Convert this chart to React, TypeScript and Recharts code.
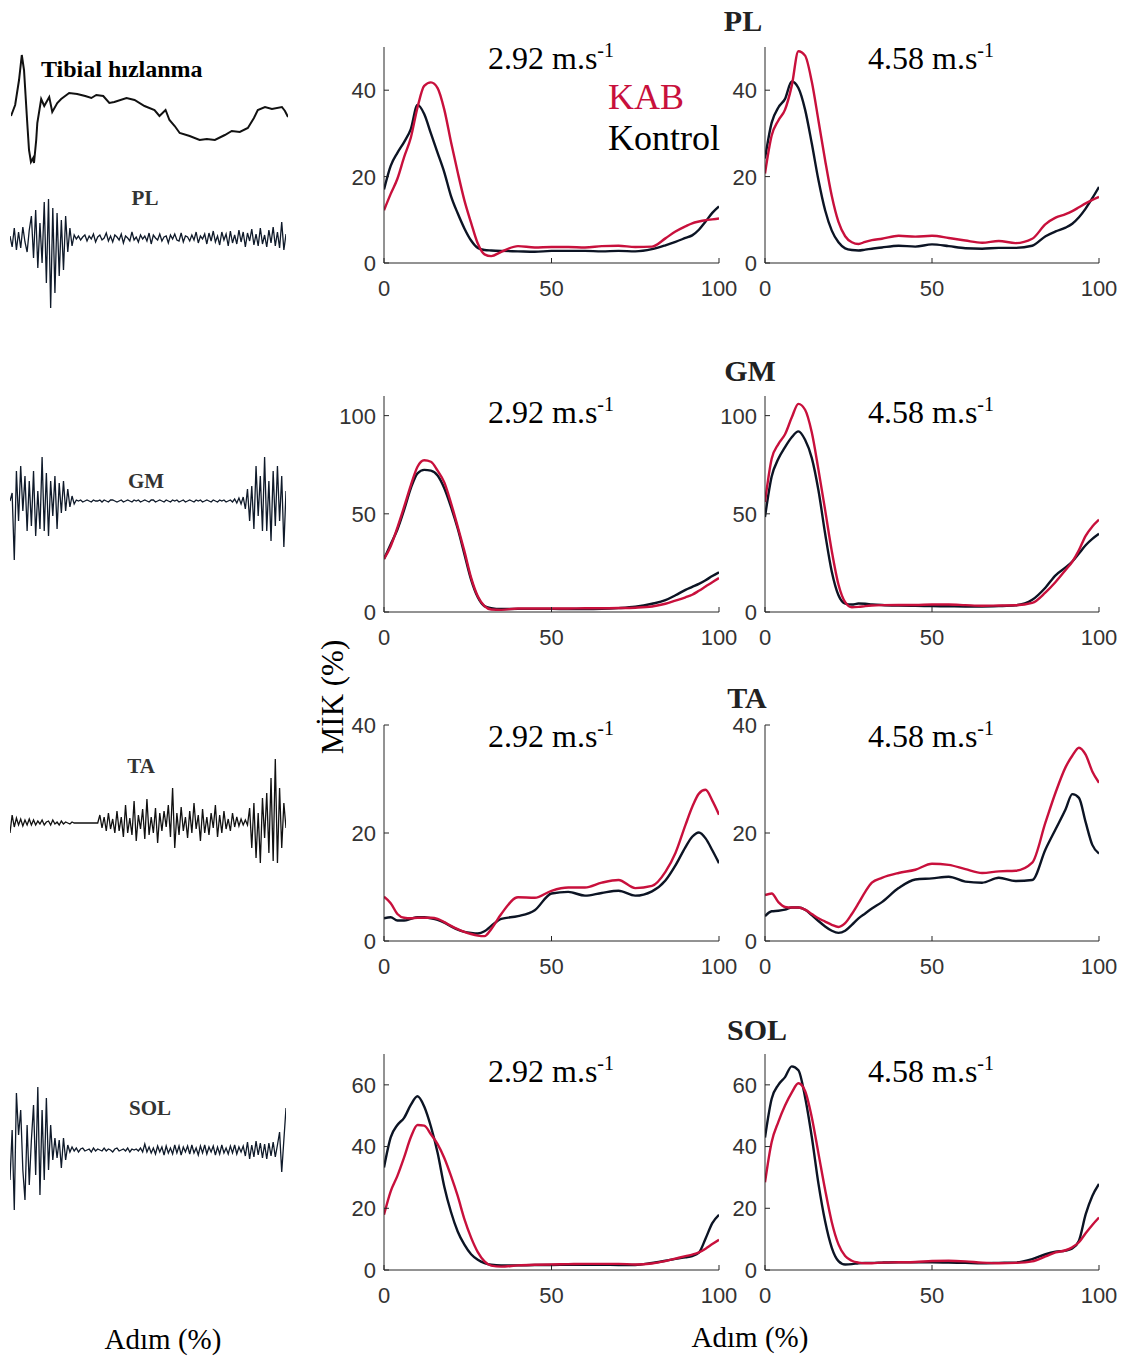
import React from 'react';
import { LineChart, Line, XAxis, YAxis } from 'recharts';

// ---------- shared x (step %) ----------
const X_PCT = [0,2,4,6,8,10,12,14,16,18,20,22,24,26,28,30,32,35,40,45,50,55,60,65,70,75,80,84,87,90,92,94,96,98,100];

// ---------- PL ----------
const PL_292_KON = [17,22.5,25.5,28,31,36.6,34.5,30,25.5,21,15.5,11.5,8,5.2,3.5,3.0,2.9,2.8,2.7,2.6,2.8,2.8,2.8,2.7,2.8,2.7,3.2,4.1,4.9,5.8,6.4,7.7,9.6,11.6,13.1];
const PL_292_KAB = [12.2,16,19.5,24.5,29,36,41,41.8,40.5,35.5,28,21,14.5,9.3,4.5,2.0,1.6,2.6,3.9,3.6,3.7,3.7,3.6,3.9,4.0,3.7,3.8,5.7,7.3,8.5,9.2,9.6,9.9,10.1,10.3];
const PL_458_KON = [24.2,32.5,36,38,42,40.5,35.5,27.7,19.2,12.2,7.5,4.8,3.4,3.0,2.9,3.1,3.3,3.6,4.0,3.8,4.3,3.9,3.4,3.3,3.5,3.5,4.0,6.2,7.3,8.2,9.1,10.6,12.6,15.0,17.6];
const PL_458_KAB = [20.7,29.5,33,35.5,41,49,48,42,33,23.8,15.5,9.5,6.2,4.8,4.4,4.9,5.3,5.6,6.3,6.1,6.3,5.8,5.2,4.7,5.1,4.6,5.6,9.0,10.5,11.3,12.0,12.9,13.8,14.6,15.3];

// ---------- GM ----------
const GM_292_KON = [27,34.5,42,52,63,70.6,72.4,72,69.5,63,53.5,42.5,29.5,16.5,7.5,3.0,2.0,1.5,1.6,1.6,1.6,1.5,1.5,1.6,2.0,2.7,4.2,6.0,8.5,11.3,12.8,14.3,16.2,18.3,20.2];
const GM_292_KAB = [27,33.5,43,53.5,64.5,74,77.3,76.5,72,66,55.5,43.5,31,17.5,8,3,1.3,1.1,1.8,1.8,1.8,1.8,1.9,1.9,2.0,2.2,2.8,4.2,5.8,7.5,8.8,10.8,13.0,15.2,17.3];
const GM_458_KON = [48.4,69,78,84,89,92,87.7,78.5,62,40,20.5,8.5,4.3,3.8,4.3,4.2,3.9,3.6,3.3,3.1,3.0,2.9,2.8,2.8,3.0,3.4,6.2,12.5,18.7,22.7,25.7,29.8,34.0,37.2,39.8];
const GM_458_KAB = [56,78,85.5,90.5,99,106,103,91.5,72.5,52,31,14,5,2.4,2.6,3.0,3.3,3.5,3.6,3.6,3.8,3.8,3.5,3.2,3.3,3.4,4.6,10.0,15.3,21.4,25.6,31.5,38.8,43.5,47];

// ---------- TA ----------
const TA_292_KON = [4.2,4.4,3.8,3.8,4.1,4.4,4.4,4.2,3.9,3.4,2.7,2.1,1.7,1.5,1.4,1.8,2.8,4.1,4.6,5.7,8.8,9.1,8.4,8.9,9.3,8.4,9.2,11.2,14.0,17.4,19.3,20.1,19.0,16.8,14.4];
const TA_292_KAB = [8.2,7,5,4.3,4.2,4.3,4.3,4.3,4.1,3.5,2.8,2.2,1.7,1.3,1.0,0.9,2.2,5.0,8.1,8.0,9.3,9.9,9.9,10.8,11.3,9.8,10.2,12.8,16.3,21.5,24.8,27.3,28.0,26.0,23.4];
const TA_458_KON = [4.6,5.5,5.6,5.8,6.2,6.2,5.8,4.8,3.7,2.7,1.9,1.5,1.9,3.0,4.2,5.1,6.0,7.2,9.8,11.4,11.6,11.9,11.0,10.8,11.7,11.1,11.3,17.0,20.7,24.4,27.2,26.5,22.0,17.8,16.2];
const TA_458_KAB = [8.5,8.8,7.2,6.3,6.2,6.2,5.8,5.0,4.2,3.6,3.0,2.6,3.3,5.0,7.0,9.1,10.8,11.7,12.6,13.2,14.3,14.1,13.3,12.6,12.9,13.0,14.5,22.0,27.5,32.2,34.3,35.8,34.5,31.4,29.3];

// ---------- SOL ----------
const SOL_292_KON = [33.2,43,47,49.3,53.5,56.3,53,46.5,38,27,18.8,12.5,8.2,5.1,3.3,2.2,1.7,1.5,1.5,1.6,1.6,1.7,1.7,1.7,1.6,1.6,2.3,3.0,3.6,4.1,4.5,5.6,10.2,15.2,17.9];
const SOL_292_KAB = [17.9,25.5,30.5,36.5,43,47,46.8,44,40.8,36.3,30.5,24,16.5,10.5,5.8,2.8,1.4,1.1,1.5,1.7,1.8,1.9,2.0,2.0,2.0,1.8,2.1,2.9,3.7,4.5,5.0,5.7,6.9,8.4,9.8];
const SOL_458_KON = [42.9,55.5,60,62.5,66,64.7,56,43.2,28,15.8,7.2,2.9,1.8,1.9,2.2,2.3,2.3,2.4,2.5,2.5,2.5,2.4,2.3,2.2,2.3,2.4,3.5,5.1,5.9,6.3,7.0,9.5,18.0,24.0,27.9];
const SOL_458_KAB = [28.4,41.5,48,53.3,57.5,60.5,58,49.5,37.8,26,15.5,8.3,4.5,3.0,2.4,2.2,2.2,2.4,2.5,2.6,2.9,3.0,2.8,2.4,2.2,2.3,2.8,4.4,5.7,6.4,7.4,9.0,11.9,14.6,17.0];

// ---------- axis ticks ----------
const X_TICKS = [0, 50, 100];
const PL_TICKS = [0, 20, 40];
const GM_TICKS = [0, 50, 100];
const TA_TICKS = [0, 20, 40];
const SOL_TICKS = [0, 20, 40, 60];

// ---------- raw signals (left column) ----------
const TIB_T = [0,1.5,2.9,3.9,4.7,5.8,6.5,7.2,8,8.3,9.1,9.5,10.9,12,13.8,14.9,16.7,18.1,21,23.9,26.8,29,30.8,33.3,35.5,37.3,41.7,44.6,48.2,51.8,53.6,55.8,57.2,59.1,60.9,64.5,68.1,70.7,73.6,77.2,79.7,82.6,85.5,87.7,89.1,91.7,94.2,97.8,98.9,100];
const TIB_V = [0,11,36,61,46,-4,-34,-46,-42,-47,-24,-7,17,10,19,4,13,17,23,22,20,18,21,20,13,14,18,16,10,6,0,6,-4,-10,-17,-20,-24,-23,-24,-19,-15,-16,-12,-2,6,9,7,9,5,-1];

const EMG_PL = [2,-9,10,-12,6,-10,11,-4,-14,8,22,-20,28,-30,15,-25,36,-45,39,-70,30,-55,25,-38,18,-32,22,-14,10,-8,3,
  -1,2,-2,1,3,-3,2,-1,4,-4,1,3,-2,0,5,-3,2,-4,3,1,-2,4,-5,2,0,-3,6,-2,1,-4,3,-1,2,-3,5,-6,3,0,-2,4,-3,1,2,-5,3,-1,4,-2,-3,5,-4,2,1,-3,3,-2,6,-5,2,-1,4,-6,5,-3,7,-4,2,-7,6,-2,4,-8,7,-5,3,-6,8,-4,6,-9,5,-3,9,-7,4,-8,10,-6,3,-9,8,-5,11,-8,6,-10,16,-12,4];
const EMG_GM = [0,8,-59,30,-20,35,-10,25,-30,20,-25,30,-35,10,-28,44,-30,28,-35,20,-15,25,-28,18,-12,20,-10,12,-6,5,-3,
  1,0,1,-1,0,1,0,-1,1,0,0,1,-1,1,0,-1,1,1,0,-1,0,1,-1,0,1,0,-1,1,0,1,-1,0,1,0,-1,1,1,-1,0,1,0,-1,1,0,-1,1,0,1,-1,0,1,-1,0,1,0,-1,1,0,1,-1,0,1,0,-1,1,0,-1,1,0,1,-1,0,1,-1,2,-2,3,-3,4,
  -8,12,-20,15,-28,35,-15,25,-30,44,-30,20,-40,30,-25,35,-20,25,-46,10];
const EMG_TA = [-10,8,-4,5,-2,4,-3,3,-2,4,-2,3,
  -2,2,-1,3,-2,1,2,-2,3,-1,1,-2,2,-1,1,0,-1,1,
  0,0,0,0,0,0,0,0,0,0,0,0,
  8,-5,6,-8,10,-6,4,-10,12,-8,6,-14,18,-10,5,-12,22,-18,8,-6,14,-16,24,-12,6,-10,15,-20,10,-8,12,-4,18,-14,35,-25,10,-12,16,-8,6,-15,12,-10,20,-6,8,-18,14,-10,6,-12,10,-5,18,-14,8,-10,12,-6,4,-8,10,-4,6,-3,4,-2,3,-2,
  15,-25,20,-35,10,-40,25,-15,30,-30,45,-38,64,-40,35,-25,20,-5];
const EMG_SOL = [-30,20,-60,57,15,40,-20,-50,25,-35,10,45,-25,63,-45,40,-30,52,-20,25,-10,12,-8,10,-18,12,-10,5,
  -2,3,-1,2,-2,1,2,-1,0,1,-2,2,-1,1,0,-1,2,-1,1,0,-2,1,2,-1,0,1,-1,2,-2,1,0,1,-1,2,-2,6,
  -2,3,-3,2,-4,4,-2,3,-5,4,-3,2,-4,5,-3,4,-5,3,-2,4,-4,5,-3,2,-5,4,-3,5,-4,3,-2,4,-5,3,-4,5,-3,2,-4,4,-3,5,-4,3,-2,4,
  -6,8,-9,5,-7,9,-5,7,-8,6,-9,7,-6,8,-7,5,18,-22,10,42];

// ---------- style ----------
const RED = '#c8103c';
const DARK = '#0c1424';
const AXIS = '#262626';
const SERIF = "'Liberation Serif', 'Times New Roman', serif";
const SANS = "'Liberation Sans', Arial, Helvetica, sans-serif";

function XTick(props: any) {
  const { x, y, payload } = props;
  return (
    <g>
      <line x1={x} y1={y} x2={x} y2={y - 5} stroke={AXIS} strokeWidth={1} />
      <text x={x} y={y + 33} textAnchor="middle" fontFamily={SANS} fontSize={22} fill="#333">
        {payload.value}
      </text>
    </g>
  );
}

function YTick(props: any) {
  const { x, y, payload } = props;
  return (
    <g>
      <line x1={x} y1={y} x2={x + 5} y2={y} stroke={AXIS} strokeWidth={1} />
      <text x={x - 8} y={y} dy="0.36em" textAnchor="end" fontFamily={SANS} fontSize={22} fill="#333">
        {payload.value}
      </text>
    </g>
  );
}

type PanelProps = {
  left: number;
  top: number;
  width: number;
  kon: number[];
  kab: number[];
  domain: [number, number];
  yTicks: number[];
};

const PANEL_TOP_MARGIN = 20;

function Panel({ left, top, width, kon, kab, domain, yTicks }: PanelProps) {
  const data = X_PCT.map((x, i) => ({ x, kon: kon[i], kab: kab[i] }));
  return (
    <div style={{ position: 'absolute', left, top: top - PANEL_TOP_MARGIN }}>
      <LineChart width={width} height={216 + PANEL_TOP_MARGIN + 40} data={data} margin={{ top: PANEL_TOP_MARGIN, right: 20, bottom: 0, left: 0 }}>
        <XAxis
          dataKey="x"
          type="number"
          domain={[0, 100]}
          ticks={X_TICKS}
          interval={0}
          height={40}
          tickSize={0}
          tickMargin={0}
          tickLine={false}
          axisLine={{ stroke: AXIS, strokeWidth: 1 }}
          tick={<XTick />}
          allowDataOverflow
        />
        <YAxis
          type="number"
          domain={domain}
          ticks={yTicks}
          interval={0}
          width={60}
          tickSize={0}
          tickMargin={0}
          tickLine={false}
          axisLine={{ stroke: AXIS, strokeWidth: 1 }}
          tick={<YTick />}
          allowDataOverflow
        />
        <Line dataKey="kon" type="monotone" stroke={DARK} strokeWidth={2.4} dot={false} isAnimationActive={false} />
        <Line dataKey="kab" type="monotone" stroke={RED} strokeWidth={2.4} dot={false} isAnimationActive={false} />
      </LineChart>
    </div>
  );
}

type TraceProps = { left: number; top: number; width: number; data: { t: number; v: number }[]; half: number; color: string; sw: number };

function Trace({ left, top, width, data, half, color, sw }: TraceProps) {
  return (
    <div style={{ position: 'absolute', left, top }}>
      <LineChart width={width} height={half * 2} data={data} margin={{ top: 0, right: 0, bottom: 0, left: 0 }}>
        <XAxis dataKey="t" type="number" domain={['dataMin', 'dataMax']} hide />
        <YAxis type="number" domain={[-half, half]} hide allowDataOverflow />
        <Line dataKey="v" type="linear" stroke={color} strokeWidth={sw} dot={false} isAnimationActive={false} />
      </LineChart>
    </div>
  );
}

const idx = (arr: number[]) => arr.map((v, i) => ({ t: i, v }));

function Speed({ x, y, label }: { x: number; y: number; label: string }) {
  return (
    <text x={x} y={y} fontFamily={SERIF} fontSize={32} fill="#000">
      {label} m.s
      <tspan dy={-12} fontSize={20}>-1</tspan>
    </text>
  );
}

export default function App() {
  const tib = TIB_T.map((t, i) => ({ t, v: TIB_V[i] }));
  const L = 324;
  const R = 705;
  const WL = 415;
  const WR = 414;
  // top of each plot area (value = domain max)
  const rows = [47, 396, 725, 1054];
  return (
    <div style={{ position: 'absolute', left: 0, top: 0, width: 1133, height: 1360, background: '#fff', overflow: 'hidden' }}>
      {/* raw signals */}
      <Trace left={11} top={46} width={277} data={tib} half={70} color="#111" sw={2} />
      <Trace left={10} top={158} width={276} data={idx(EMG_PL)} half={80} color="#0f1a2a" sw={1.3} />
      <Trace left={10} top={421} width={276} data={idx(EMG_GM)} half={80} color="#0f1a2a" sw={1.3} />
      <Trace left={10} top={743} width={276} data={idx(EMG_TA)} half={80} color="#111" sw={1.3} />
      <Trace left={10} top={1070} width={276} data={idx(EMG_SOL)} half={80} color="#0f1a2a" sw={1.3} />

      {/* main panels */}
      <Panel left={L} top={rows[0]} width={WL} kon={PL_292_KON} kab={PL_292_KAB} domain={[0, 50]} yTicks={PL_TICKS} />
      <Panel left={R} top={rows[0]} width={WR} kon={PL_458_KON} kab={PL_458_KAB} domain={[0, 50]} yTicks={PL_TICKS} />
      <Panel left={L} top={rows[1]} width={WL} kon={GM_292_KON} kab={GM_292_KAB} domain={[0, 110]} yTicks={GM_TICKS} />
      <Panel left={R} top={rows[1]} width={WR} kon={GM_458_KON} kab={GM_458_KAB} domain={[0, 110]} yTicks={GM_TICKS} />
      <Panel left={L} top={rows[2]} width={WL} kon={TA_292_KON} kab={TA_292_KAB} domain={[0, 40]} yTicks={TA_TICKS} />
      <Panel left={R} top={rows[2]} width={WR} kon={TA_458_KON} kab={TA_458_KAB} domain={[0, 40]} yTicks={TA_TICKS} />
      <Panel left={L} top={rows[3]} width={WL} kon={SOL_292_KON} kab={SOL_292_KAB} domain={[0, 70]} yTicks={SOL_TICKS} />
      <Panel left={R} top={rows[3]} width={WR} kon={SOL_458_KON} kab={SOL_458_KAB} domain={[0, 70]} yTicks={SOL_TICKS} />

      {/* text overlay */}
      <svg width={1133} height={1360} style={{ position: 'absolute', left: 0, top: 0, pointerEvents: 'none' }}>
        <text x={41} y={77} fontFamily={SERIF} fontWeight="bold" fontSize={24} fill="#000">Tibial hızlanma</text>
        <text x={145} y={205} textAnchor="middle" fontFamily={SERIF} fontWeight="bold" fontSize={21} fill="#333">PL</text>
        <text x={146} y={488} textAnchor="middle" fontFamily={SERIF} fontWeight="bold" fontSize={21} fill="#333">GM</text>
        <text x={141} y={773} textAnchor="middle" fontFamily={SERIF} fontWeight="bold" fontSize={21} fill="#333">TA</text>
        <text x={150} y={1115} textAnchor="middle" fontFamily={SERIF} fontWeight="bold" fontSize={21} fill="#333">SOL</text>

        <text x={743} y={31} textAnchor="middle" fontFamily={SERIF} fontWeight="bold" fontSize={30} fill="#222">PL</text>
        <text x={750} y={381} textAnchor="middle" fontFamily={SERIF} fontWeight="bold" fontSize={30} fill="#222">GM</text>
        <text x={747} y={708} textAnchor="middle" fontFamily={SERIF} fontWeight="bold" fontSize={30} fill="#222">TA</text>
        <text x={757} y={1040} textAnchor="middle" fontFamily={SERIF} fontWeight="bold" fontSize={30} fill="#222">SOL</text>

        <Speed x={488} y={69} label="2.92" />
        <Speed x={868} y={69} label="4.58" />
        <Speed x={488} y={423} label="2.92" />
        <Speed x={868} y={423} label="4.58" />
        <Speed x={488} y={747} label="2.92" />
        <Speed x={868} y={747} label="4.58" />
        <Speed x={488} y={1082} label="2.92" />
        <Speed x={868} y={1082} label="4.58" />

        <text x={608} y={109} fontFamily={SERIF} fontSize={36} fill={RED}>KAB</text>
        <text x={608} y={150} fontFamily={SERIF} fontSize={36} fill="#000">Kontrol</text>

        <text x={343} y={697} textAnchor="middle" fontFamily={SERIF} fontSize={31} fill="#000" transform="rotate(-90 343 697)">MİK (%)</text>
        <text x={750} y={1347} textAnchor="middle" fontFamily={SERIF} fontSize={29} fill="#000">Adım (%)</text>
        <text x={163} y={1349} textAnchor="middle" fontFamily={SERIF} fontSize={29} fill="#000">Adım (%)</text>
      </svg>
    </div>
  );
}
